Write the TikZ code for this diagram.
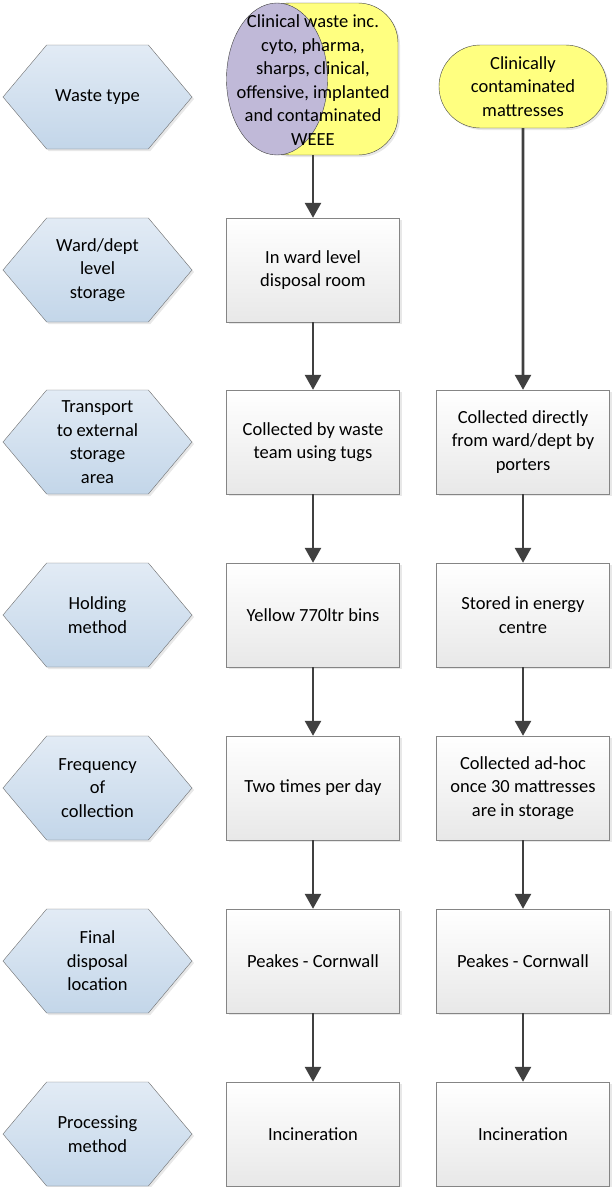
\documentclass[tikz,border=0pt]{standalone}
\usepackage{fontspec}
\setmainfont{Carlito}
\usetikzlibrary{positioning, arrows.meta, shapes.symbols, shapes.misc, shapes.geometric, shadows}
\definecolor{stageTop}{HTML}{E2EBF5}
\definecolor{stageBottom}{HTML}{C3D6E9}
\definecolor{stageLine}{HTML}{6F6F6F}
\definecolor{boxLine}{HTML}{858585}
\definecolor{flowGray}{HTML}{404040}
\definecolor{wasteYellow}{HTML}{FFFF80}
\definecolor{wastePurple}{HTML}{C0B9D8}

\begin{document}
\begin{tikzpicture}[x=1pt, y=-1pt,
    font=\fontsize{18.5}{23.5}\selectfont,
    stage/.style={signal, signal to=east and west, signal pointer angle=100,
      draw=stageLine, top color=stageTop, bottom color=stageBottom,
      minimum width=189pt, minimum height=104pt, inner sep=0pt, align=center,
      drop shadow={shadow xshift=2pt, shadow yshift=-2pt, fill=black!18}},
    stepbox/.style={rectangle, draw=boxLine, top color=white, bottom color=black!9,
      minimum width=173pt, minimum height=104pt, inner sep=2pt, align=center,
      drop shadow={shadow xshift=2pt, shadow yshift=-2pt, fill=black!18}},
    flow/.style={-{Triangle[width=16pt, length=15pt]}, flowGray, line width=2.7pt}]
    \useasboundingbox (0,0) rectangle (611,1187);

    % stages on the left
    \node[stage] (type) at (97.5,97) {Waste type};
    \node[stage] (level) at (97.5,270) {Ward/dept\\level\\storage};
    \node[stage] (transport) at (97.5,442) {Transport\\to external\\storage\\area};
    \node[stage] (holding) at (97.5,615) {Holding\\method};
    \node[stage] (frequency) at (97.5,788) {Frequency\\of\\collection};
    \node[stage] (final) at (97.5,961) {Final\\disposal\\location};
    \node[stage] (processing) at (97.5,1134) {Processing\\method};

    % clinical waste column
    \node[draw=black!75, fill=wasteYellow, rounded corners=40pt,
          minimum width=148pt, minimum height=152pt,
          drop shadow={shadow xshift=2pt, shadow yshift=-2pt, fill=black!18}] (cw) at (324,79) {};
    \node[ellipse, draw=black!75, fill=wastePurple,
          minimum width=101pt, minimum height=152pt] (cwp) at (277,79) {};
    \node[align=center, inner sep=0pt] (cwtext) at (313,80)
      {Clinical waste inc.\\cyto, pharma,\\sharps, clinical,\\offensive, implanted\\and contaminated\\WEEE};
    \node[stepbox] (ward) at (313,270) {In ward level\\disposal room};
    \node[stepbox] (tugs) at (313,442) {Collected by waste\\team using tugs};
    \node[stepbox] (bins) at (313,615) {Yellow 770ltr bins};
    \node[stepbox] (twice) at (313,788) {Two times per day};
    \node[stepbox] (peakesA) at (313,961) {Peakes - Cornwall};
    \node[stepbox] (burnA) at (313,1134) {Incineration};

    % mattress column
    \node[rounded rectangle, draw=black!75, fill=wasteYellow, align=center,
          minimum width=172pt, minimum height=83pt, inner sep=2pt,
          drop shadow={shadow xshift=2pt, shadow yshift=-2pt, fill=black!18}] (mattress) at (523,86.5)
      {Clinically\\contaminated\\mattresses};
    \node[stepbox] (porters) at (523,442) {Collected directly\\from ward/dept by\\porters};
    \node[stepbox] (energy) at (523,615) {Stored in energy\\centre};
    \node[stepbox] (adhoc) at (523,788) {Collected ad-hoc\\once 30 mattresses\\are in storage};
    \node[stepbox] (peakesB) at (523,961) {Peakes - Cornwall};
    \node[stepbox] (burnB) at (523,1134) {Incineration};

    \draw[flow] (cw.south -| ward.north) -- (ward.north);
    \draw[flow] (ward) -- (tugs);
    \draw[flow] (tugs) -- (bins);
    \draw[flow] (bins) -- (twice);
    \draw[flow] (twice) -- (peakesA);
    \draw[flow] (peakesA) -- (burnA);
    \draw[flow] (mattress) -- (porters);
    \draw[flow] (porters) -- (energy);
    \draw[flow] (energy) -- (adhoc);
    \draw[flow] (adhoc) -- (peakesB);
    \draw[flow] (peakesB) -- (burnB);
  \end{tikzpicture}
\end{document}
